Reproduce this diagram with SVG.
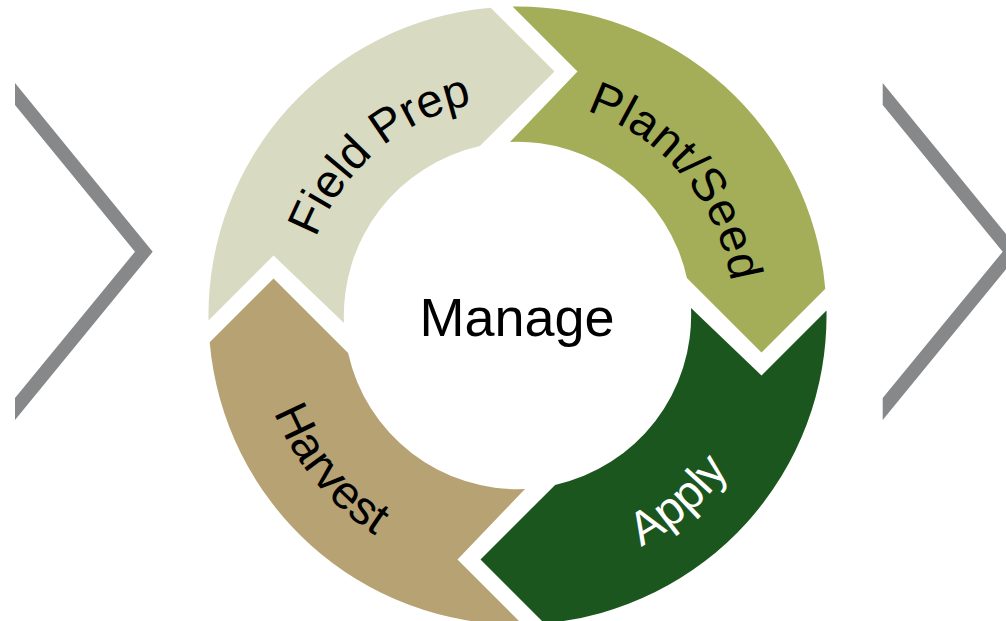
<svg xmlns="http://www.w3.org/2000/svg" xmlns:xlink="http://www.w3.org/1999/xlink" width="1006" height="621" viewBox="0 0 1006 621">
  <style>
    .lbl { font-family: "Liberation Sans", Arial, sans-serif; font-size: 47px; fill: #000000; }
    .chev { fill: #87888A; }
  </style>
  <defs>
    <path id="seg" d="M 208.5 320.5 A 309 309 0 0 1 490.7 7.7 L 554.5 71.5 L 479.9 146.1 A 173.6 173.6 0 0 0 344 323 L 273.5 255.5 Z"/>
    <path id="tpField" d="M 305.1 354.9 A 216 216 0 0 1 589.6 111.9"/>
    <path id="tpPlant" d="M 479.6 102.8 A 216 216 0 0 1 720.6 389"/>
    <path id="tpApply" d="M 432.2 563.2 A 262 262 0 0 0 774.7 265.5"/>
    <path id="tpHarvest" d="M 272.3 223.3 A 262 262 0 0 0 560.3 574"/>
  </defs>
  <rect width="1006" height="621" fill="#FFFFFF"/>

  <g id="chevron-left">
    <polygon class="chev" points="15,83 152.7,251.7 15,420 15,398 135,251.7 15,105"/>
  </g>
  <g id="chevron-right">
    <polygon class="chev" points="882.7,83 1020.4,251.7 882.7,420 882.7,398 1002.7,251.7 882.7,105"/>
  </g>

  <g id="connectors"></g>

  <g id="field-prep">
    <use xlink:href="#seg" href="#seg" fill="#D8DBC2"/>
    <text class="lbl"><textPath xlink:href="#tpField" href="#tpField" startOffset="50%" text-anchor="middle">Field Prep</textPath></text>
  </g>
  <g id="plant-seed">
    <use xlink:href="#seg" href="#seg" fill="#A4AE59" transform="rotate(90 517.5 315.5)"/>
    <text class="lbl" letter-spacing="0.6"><textPath xlink:href="#tpPlant" href="#tpPlant" startOffset="50%" text-anchor="middle">Plant/Seed</textPath></text>
  </g>
  <g id="apply">
    <use xlink:href="#seg" href="#seg" fill="#1B561E" transform="rotate(180 517.5 315.5)"/>
    <text class="lbl" style="fill:#FFFFFF"><textPath xlink:href="#tpApply" href="#tpApply" startOffset="50%" text-anchor="middle">Apply</textPath></text>
  </g>
  <g id="harvest">
    <use xlink:href="#seg" href="#seg" fill="#B6A273" transform="rotate(270 517.5 315.5)"/>
    <text class="lbl"><textPath xlink:href="#tpHarvest" href="#tpHarvest" startOffset="50%" text-anchor="middle">Harvest</textPath></text>
  </g>

  <g id="manage">
    <text x="517" y="336" text-anchor="middle" style="font-family: 'Liberation Sans', Arial, sans-serif; font-size: 54px; fill: #000000;">Manage</text>
  </g>
</svg>
